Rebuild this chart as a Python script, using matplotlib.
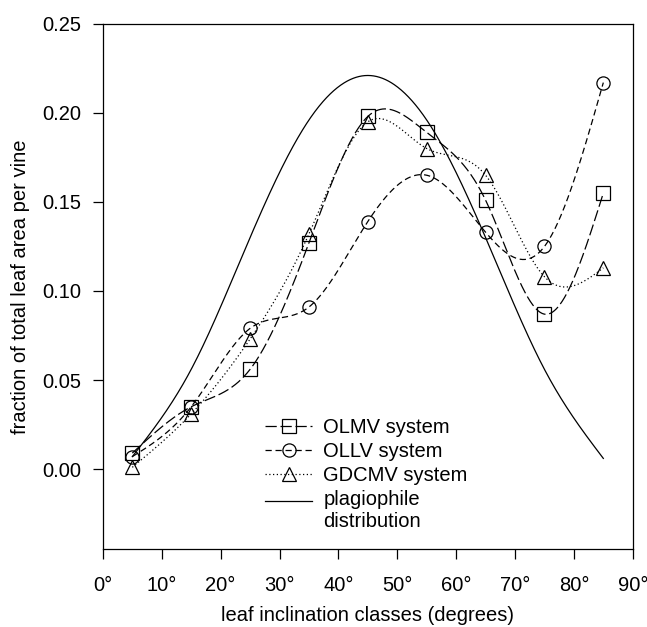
import numpy as np
import matplotlib
matplotlib.use("Agg")
import matplotlib.pyplot as plt

plt.rcParams['font.family'] = ['Liberation Sans', 'DejaVu Sans']

# leaf inclination class centres (degrees)
classes = [5, 15, 25, 35, 45, 55, 65, 75, 85]

olmv = [0.009, 0.035, 0.056, 0.127, 0.198, 0.189, 0.151, 0.087, 0.155]
ollv = [0.007, 0.035, 0.079, 0.091, 0.139, 0.165, 0.133, 0.125, 0.217]
gdcmv = [0.001, 0.031, 0.073, 0.132, 0.195, 0.180, 0.165, 0.108, 0.113]
plagiophile = [0.007, 0.056, 0.130, 0.196, 0.221, 0.196, 0.130, 0.056, 0.006]

x_ticks = [0, 10, 20, 30, 40, 50, 60, 70, 80, 90]
y_ticks = [0.00, 0.05, 0.10, 0.15, 0.20, 0.25]


def natural_spline(x, y, n_per=100):
    # natural cubic spline through the points, only used to draw smooth lines
    x = np.asarray(x, float)
    y = np.asarray(y, float)
    n = len(x)
    h = np.diff(x)
    A = np.zeros((n, n))
    b = np.zeros(n)
    A[0, 0] = 1
    A[-1, -1] = 1
    for i in range(1, n - 1):
        A[i, i - 1] = h[i - 1]
        A[i, i] = 2 * (h[i - 1] + h[i])
        A[i, i + 1] = h[i]
        b[i] = 6 * ((y[i + 1] - y[i]) / h[i] - (y[i] - y[i - 1]) / h[i - 1])
    m = np.linalg.solve(A, b)
    xs, ys = [], []
    for i in range(n - 1):
        last = (i == n - 2)
        t = np.linspace(x[i], x[i + 1], n_per + 1 if last else n_per, endpoint=last)
        a = x[i + 1] - t
        c = t - x[i]
        s = (m[i] * a ** 3 + m[i + 1] * c ** 3) / (6 * h[i]) \
            + (y[i] / h[i] - m[i] * h[i] / 6) * a \
            + (y[i + 1] / h[i] - m[i + 1] * h[i] / 6) * c
        xs.append(t)
        ys.append(s)
    return np.concatenate(xs), np.concatenate(ys)


fig = plt.figure(figsize=(6.47, 6.27), dpi=100)
ax = fig.add_axes([0.159, 0.124, 0.819, 0.838])

marks = [i * 100 for i in range(len(classes))]
series = [
    (olmv, "OLMV system", "s", (0, (9, 3))),
    (ollv, "OLLV system", "o", (0, (5, 3))),
    (gdcmv, "GDCMV system", "^", (0, (1, 2))),
]
for vals, label, mk, ls in series:
    xs, ys = natural_spline(classes, vals)
    ax.plot(xs, ys, color="black", lw=0.9, linestyle=ls, marker=mk, markevery=marks,
            markersize=9.5, markerfacecolor="none", markeredgecolor="black",
            markeredgewidth=0.9, label=label)

xs, ys = natural_spline(classes, plagiophile)
ax.plot(xs, ys, color="black", lw=0.9, linestyle="-", label="plagiophile\ndistribution")

fs = 14.5
ax.set_xlim(0, 90)
ax.set_ylim(-0.045, 0.25)
ax.set_xticks(x_ticks)
ax.set_xticklabels(["{}°".format(t) for t in x_ticks])
ax.set_yticks(y_ticks)
ax.set_yticklabels(["{:.2f}".format(t) for t in y_ticks])
ax.tick_params(direction="out", length=7.5, width=0.9, labelsize=fs)
ax.tick_params(axis="x", pad=11.5)
ax.tick_params(axis="y", pad=8)
for sp in ax.spines.values():
    sp.set_linewidth(0.9)

ax.set_xlabel("leaf inclination classes (degrees)", fontsize=fs, labelpad=8)
ax.set_ylabel("fraction of total leaf area per vine", fontsize=fs, labelpad=9)

leg = ax.legend(loc="upper left", bbox_to_anchor=(0.306, 0.25), frameon=False, fontsize=fs,
                numpoints=1, handlelength=2.35, handletextpad=0.55, labelspacing=0.25,
                borderpad=0, borderaxespad=0)
for t in leg.get_texts():
    t.set_linespacing(1.2)
# the plagiophile handle sits next to the first line of its label
h = leg.legend_handles[3]
h.set_ydata(np.asarray(h.get_ydata()) + 7.5)

fig.savefig("out.png", dpi=100)
